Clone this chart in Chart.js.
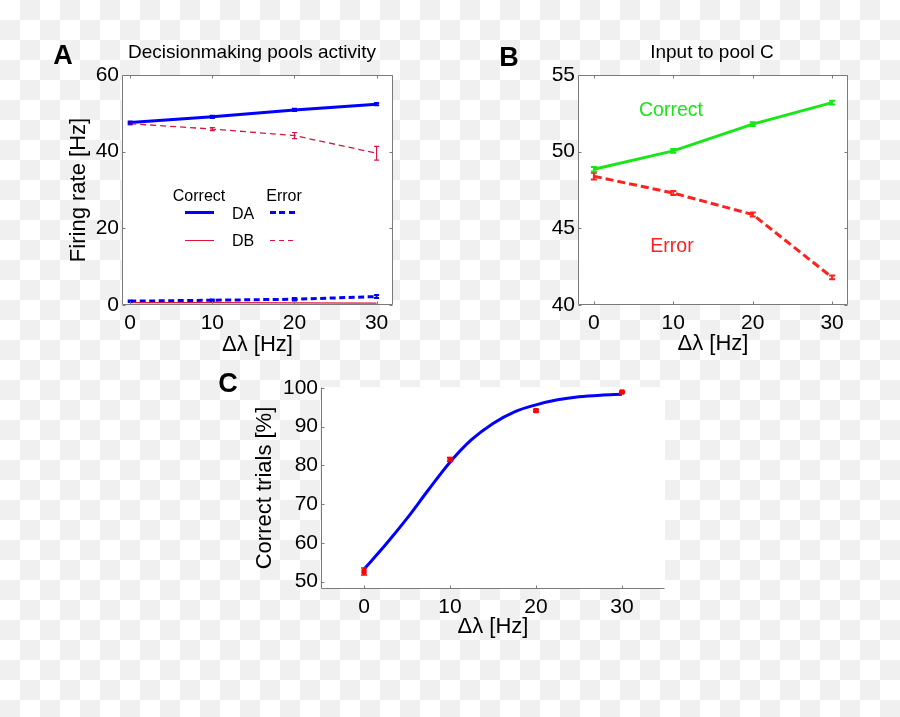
<!DOCTYPE html>
<html>
<head>
<meta charset="utf-8">
<script src="https://cdn.jsdelivr.net/npm/chart.js@4.4.0/dist/chart.umd.min.js"></script>
<style>
  html, body { margin: 0; padding: 0; }
  body {
    width: 900px; height: 717px; position: relative; overflow: hidden;
    background: repeating-conic-gradient(#f0f0f0 0 25%, #ffffff 0 50%) 0 0 / 40px 40px;
    font-family: "Liberation Sans", Arial, sans-serif;
  }
  canvas { position: absolute; }
  .t { position: absolute; transform: translate(-50%, -50%); line-height: 1; white-space: nowrap; color: #000; }
  .sw { position: absolute; }
</style>
</head>
<body>
<canvas id="cA" width="450" height="370" style="left:0px;top:0px;width:450px;height:370px"></canvas>
<canvas id="cB" width="450" height="370" style="left:450px;top:0px;width:450px;height:370px"></canvas>
<canvas id="cC" width="500" height="357" style="left:200px;top:360px;width:500px;height:357px"></canvas>

<div class="t" style="left:63px;top:55px;font-size:27px;font-weight:bold">A</div>
<div class="t" style="left:509px;top:57px;font-size:27px;font-weight:bold">B</div>
<div class="t" style="left:228px;top:383px;font-size:27px;font-weight:bold">C</div>

<div class="t" style="left:252px;top:51px;font-size:19px">Decisionmaking pools activity</div>
<div class="t" style="left:712px;top:51px;font-size:19px">Input to pool C</div>

<!-- legend panel A -->
<div class="t" style="left:199px;top:196px;font-size:16px">Correct</div>
<div class="t" style="left:284px;top:196px;font-size:16px">Error</div>
<div class="t" style="left:243px;top:214px;font-size:16px">DA</div>
<div class="t" style="left:243px;top:241px;font-size:16px">DB</div>
<div class="sw" style="left:185px;top:211px;width:29px;height:3px;background:#0000ff"></div>
<div class="sw" style="left:270px;top:211px;width:26px;height:3px;background:repeating-linear-gradient(90deg,#0000ff 0 6px,transparent 6px 9.5px)"></div>
<div class="sw" style="left:185px;top:239.5px;width:29px;height:1.3px;background:#dc143c"></div>
<div class="sw" style="left:270px;top:239.5px;width:26px;height:1.3px;background:repeating-linear-gradient(90deg,#dc143c 0 5px,transparent 5px 9px)"></div>

<!-- annotations panel B -->
<div class="t" style="left:671px;top:110px;font-size:19.5px;color:#19e619">Correct</div>
<div class="t" style="left:672px;top:246px;font-size:19.5px;color:#ff2020">Error</div>

<script>
// ---------- data ----------
const xVals = [0, 10, 20, 30];

// Panel A: decision-making pools activity (Hz)
const aDAcorrect    = [47.6, 49.1, 50.9, 52.4];
const aDAcorrectErr = [0.3, 0.3, 0.3, 0.3];
const aDBerror      = [47.3, 45.9, 44.2, 39.6];
const aDBerrorErr   = [0.3, 0.4, 0.8, 1.8];
const aDAerror      = [1.0, 1.25, 1.5, 2.2];
const aDAerrorErr   = [0.2, 0.2, 0.3, 0.4];
const aDBcorrect    = [0.6, 0.6, 0.55, 0.5];
const aYTicks = [0, 20, 40, 60];

// Panel B: input to pool C (Hz)
const bCorrect    = [48.85, 50.05, 51.8, 53.2];
const bCorrectErr = [0.15, 0.12, 0.12, 0.12];
const bError      = [48.4, 47.3, 45.9, 41.8];
const bErrorErr   = [0.22, 0.13, 0.13, 0.12];
const bYTicks = [40, 45, 50, 55];

// Panel C: correct trials (%)
const cFitX = [0, 2.5, 5, 7.5, 10, 12.5, 15, 17.5, 20, 22.5, 25, 27.5, 30];
const cFit  = [53.2, 59.5, 66.3, 73.7, 80.8, 86.6, 90.8, 93.8, 95.6, 96.9, 97.7, 98.1, 98.3];
const cPts    = [52.6, 81.5, 94.1, 98.9];
const cPtsErr = [0.9, 0.5, 0.3, 0.2];
const cYTicks = [50, 60, 70, 80, 90, 100];

// ---------- helpers ----------
Chart.defaults.font.family = '"Liberation Sans", Arial, sans-serif';
Chart.defaults.color = '#000';

const pts = (xs, ys) => xs.map((x, i) => ({x: x, y: ys[i]}));

const framePlugin = {
  id: 'frame',
  beforeDraw(chart) {
    const {ctx, chartArea: a} = chart;
    ctx.save();
    ctx.fillStyle = '#ffffff';
    ctx.fillRect(a.left, a.top, a.right - a.left, a.bottom - a.top);
    ctx.restore();
  },
  afterDraw(chart, args, opts) {
    const {ctx, chartArea: a, scales} = chart;
    const L = Math.round(a.left) + 0.5, R = Math.round(a.right) - 0.5;
    const T = Math.round(a.top) + 0.5, B = Math.round(a.bottom) - 0.5;
    const tl = 3;
    ctx.save();
    ctx.strokeStyle = '#7a7a7a';
    ctx.lineWidth = 1;
    ctx.beginPath();
    if (opts.box) {
      ctx.rect(L, T, R - L, B - T);
    } else {
      ctx.moveTo(L, T); ctx.lineTo(L, B); ctx.lineTo(R, B);
    }
    scales.x.ticks.forEach(t => {
      const px = Math.round(scales.x.getPixelForValue(t.value)) + 0.5;
      ctx.moveTo(px, B); ctx.lineTo(px, B - tl);
      if (opts.box) { ctx.moveTo(px, T); ctx.lineTo(px, T + tl); }
    });
    scales.y.ticks.forEach(t => {
      const py = Math.round(scales.y.getPixelForValue(t.value)) + 0.5;
      ctx.moveTo(L, py); ctx.lineTo(L + tl, py);
      if (opts.box) { ctx.moveTo(R, py); ctx.lineTo(R - tl, py); }
    });
    ctx.stroke();
    ctx.restore();
  }
};

const errPlugin = {
  id: 'errbars',
  afterDatasetsDraw(chart) {
    const {ctx, scales} = chart;
    chart.data.datasets.forEach(ds => {
      if (!ds.errors) return;
      ctx.save();
      ctx.strokeStyle = ds.errColor || ds.borderColor;
      ctx.lineWidth = ds.errWidth || 1.2;
      ctx.setLineDash([]);
      ctx.beginPath();
      ds.data.forEach((p, i) => {
        const e = ds.errors[i];
        const px = scales.x.getPixelForValue(p.x);
        const y1 = scales.y.getPixelForValue(p.y - e);
        const y2 = scales.y.getPixelForValue(p.y + e);
        const c = ds.capHalf || 2.5;
        ctx.moveTo(px, y1); ctx.lineTo(px, y2);
        ctx.moveTo(px - c, y1); ctx.lineTo(px + c, y1);
        ctx.moveTo(px - c, y2); ctx.lineTo(px + c, y2);
      });
      ctx.stroke();
      ctx.restore();
    });
  }
};

function xScale(min, max, padTitle, tickPad, height, showTitle) {
  return {
    type: 'linear', min: min, max: max,
    grid: {display: false, drawTicks: false},
    border: {display: false},
    ticks: {stepSize: 10, includeBounds: false, padding: tickPad, font: {size: 21}, color: '#000'},
    title: {display: showTitle, text: 'Δλ [Hz]', font: {size: 22}, color: '#000', padding: {top: 0, bottom: padTitle}},
    afterBuildTicks: s => { s.ticks = xVals.map(v => ({value: v})); },
    afterFit: s => { s.height = height; }
  };
}
function yScale(min, max, tickVals, width, titleText, padTitle) {
  return {
    type: 'linear', min: min, max: max,
    grid: {display: false, drawTicks: false},
    border: {display: false},
    ticks: {padding: 3, font: {size: 21}, color: '#000'},
    title: {display: !!titleText, text: titleText || '', font: {size: 22}, color: '#000', padding: {top: padTitle, bottom: 0}},
    afterBuildTicks: s => { s.ticks = tickVals.map(v => ({value: v})); },
    afterFit: s => { s.width = width; }
  };
}
const baseOpts = (padding) => ({
  responsive: false, animation: false,
  layout: {padding: padding},
  plugins: {legend: {display: false}, tooltip: {enabled: false}, title: {display: false}},
  elements: {point: {radius: 0}}
});

// ---------- Panel A ----------
const optsA = baseOpts({left: 0, top: 75, right: 57, bottom: 0});
optsA.scales = {x: xScale(-1, 32, 11.8, 6, 65, true), y: yScale(0, 60, aYTicks, 122, 'Firing rate [Hz]', 65.8)};
optsA.plugins.frame = {box: true};
new Chart(document.getElementById('cA'), {
  type: 'line',
  data: {datasets: [
    {data: pts(xVals, aDBcorrect), borderColor: '#dc143c', borderWidth: 1.3},
    {data: pts(xVals, aDBerror), borderColor: '#dc143c', borderWidth: 1.3, borderDash: [6, 4], errors: aDBerrorErr, errWidth: 1.2},
    {data: pts(xVals, aDAerror), borderColor: '#0000ff', borderWidth: 3, borderDash: [6, 3.5], errors: aDAerrorErr, errWidth: 2},
    {data: pts(xVals, aDAcorrect), borderColor: '#0000ff', borderWidth: 3, errors: aDAcorrectErr, errWidth: 2}
  ]},
  options: optsA,
  plugins: [framePlugin, errPlugin]
});

// ---------- Panel B ----------
const optsB = baseOpts({left: 0, top: 75, right: 52, bottom: 0});
optsB.scales = {x: xScale(-2, 32, 12.8, 6, 65, true), y: yScale(40, 55, bYTicks, 128, '', 0)};
optsB.plugins.frame = {box: true};
new Chart(document.getElementById('cB'), {
  type: 'line',
  data: {datasets: [
    {data: pts(xVals, bError), borderColor: '#ff2020', borderWidth: 3, borderDash: [8, 4], errors: bErrorErr, errWidth: 2, capHalf: 3},
    {data: pts(xVals, bCorrect), borderColor: '#19e619', borderWidth: 3, errors: bCorrectErr, errWidth: 2, capHalf: 3}
  ]},
  options: optsB,
  plugins: [framePlugin, errPlugin]
});

// ---------- Panel C ----------
const optsC = baseOpts({left: 0, top: 27, right: 35, bottom: 0});
optsC.scales = {x: xScale(-5, 35, 76.8, 6, 128, true), y: yScale(48.1, 100.2, cYTicks, 121, 'Correct trials [%]', 51.8)};
optsC.plugins.frame = {box: false};
new Chart(document.getElementById('cC'), {
  type: 'line',
  data: {datasets: [
    {data: pts(xVals, cPts), showLine: false, pointStyle: 'rect', pointRadius: 3, pointBackgroundColor: '#ff0000', pointBorderColor: '#ff0000', borderColor: '#ff0000', errors: cPtsErr, errWidth: 1.5, capHalf: 3},
    {data: pts(cFitX, cFit), borderColor: '#0000ff', borderWidth: 3, cubicInterpolationMode: 'monotone'}
  ]},
  options: optsC,
  plugins: [framePlugin, errPlugin]
});
</script>
</body>
</html>
